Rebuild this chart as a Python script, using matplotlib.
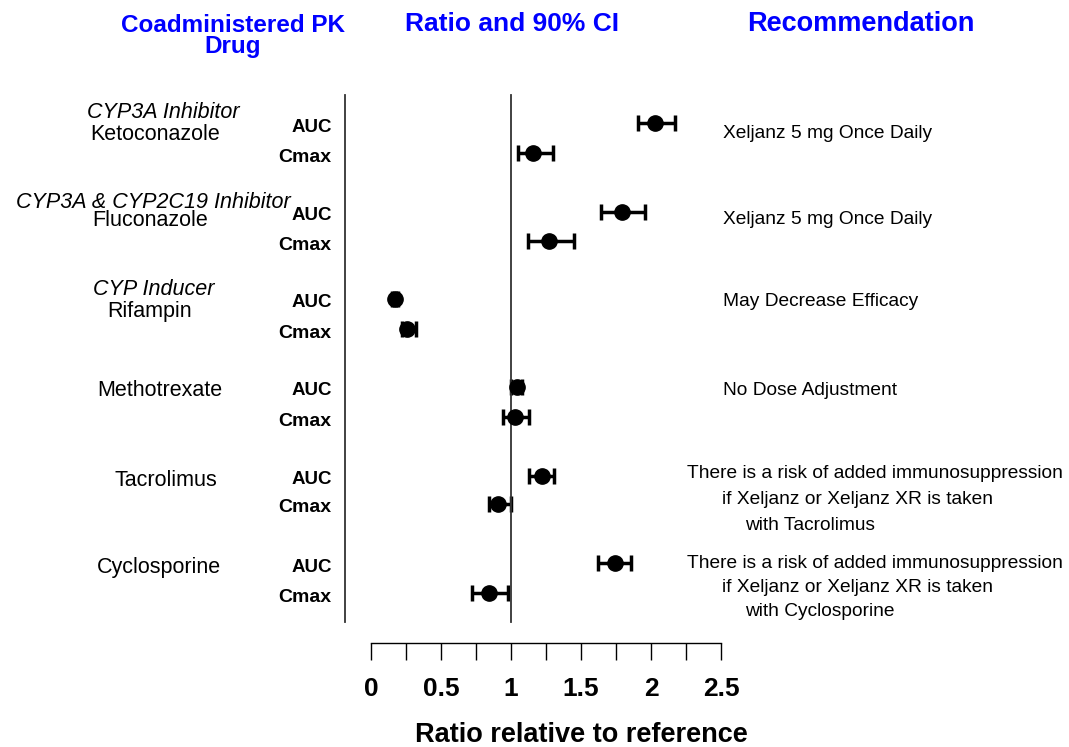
import matplotlib
matplotlib.use("Agg")
import matplotlib.pyplot as plt

plt.rcParams['font.family'] = ['Liberation Sans', 'DejaVu Sans']

W, H = 1069, 747

# data
drugs = ['Ketoconazole', 'Fluconazole', 'Rifampin', 'Methotrexate', 'Tacrolimus', 'Cyclosporine']
classes = ['CYP3A Inhibitor', 'CYP3A & CYP2C19 Inhibitor', 'CYP Inducer', '', '', '']
auc_ratio = [2.03, 1.79, 0.17, 1.04, 1.22, 1.74]
auc_lo = [1.91, 1.64, 0.15, 1.00, 1.13, 1.62]
auc_hi = [2.17, 1.96, 0.19, 1.08, 1.31, 1.86]
cmax_ratio = [1.16, 1.27, 0.26, 1.03, 0.91, 0.84]
cmax_lo = [1.05, 1.12, 0.22, 0.94, 0.84, 0.72]
cmax_hi = [1.30, 1.45, 0.32, 1.13, 1.00, 0.98]
recommendations = [
    ['Xeljanz 5 mg Once Daily'],
    ['Xeljanz 5 mg Once Daily'],
    ['May Decrease Efficacy'],
    ['No Dose Adjustment'],
    ['There is a risk of added immunosuppression', 'if Xeljanz or Xeljanz XR is taken', 'with Tacrolimus'],
    ['There is a risk of added immunosuppression', 'if Xeljanz or Xeljanz XR is taken', 'with Cyclosporine'],
]
ticks = [0, 0.25, 0.5, 0.75, 1, 1.25, 1.5, 1.75, 2, 2.25, 2.5]
tick_labels = ['0', '0.5', '1', '1.5', '2', '2.5']

# layout (pixel rows)
auc_y = [123, 212, 299, 387, 476, 563]
cmax_y = [153, 241, 329, 417, 504, 593]
x0, x1 = 371, 721


def ftext(px, py, s, **kw):
    fig.text(px / W, 1 - py / H, s, **kw)


fig = plt.figure(figsize=(W / 100, H / 100), dpi=100)
ax = fig.add_axes([x0 / W, 0, (x1 - x0) / W, 1])
ax.set_xlim(0, 2.5)
ax.set_ylim(H, 0)
ax.axis('off')

# error bars
err_kw = dict(fmt='o', color='black', markersize=11, elinewidth=2.5,
              capsize=6, capthick=2.5, clip_on=False)
ax.errorbar(auc_ratio, auc_y,
            xerr=[[r - l for r, l in zip(auc_ratio, auc_lo)],
                  [h - r for r, h in zip(auc_ratio, auc_hi)]], **err_kw)
ax.errorbar(cmax_ratio, cmax_y,
            xerr=[[r - l for r, l in zip(cmax_ratio, cmax_lo)],
                  [h - r for r, h in zip(cmax_ratio, cmax_hi)]], **err_kw)

# reference lines
ax.plot([1, 1], [95, 622], color='#333333', lw=1.3, clip_on=False)
left_x = (345 - x0) / (x1 - x0) * 2.5
ax.plot([left_x, left_x], [95, 622], color='#333333', lw=1.3, clip_on=False)

# bottom scale
ax.plot([0, 2.5], [643, 643], color='black', lw=1.0, clip_on=False)
ax.vlines(ticks, 643, 660, color='black', lw=1.0, clip_on=False)
for t, lab in zip(ticks[::2], tick_labels):
    ax.text(t, 689, lab, ha='center', va='center', fontsize=19, fontweight='bold')
ftext(581, 735, 'Ratio relative to reference', ha='center', va='center',
      fontsize=19.5, fontweight='bold')

# headers
blue = '#0000FF'
ftext(233, 36, 'Coadministered PK\nDrug', ha='center', va='center', fontsize=17.5,
      fontweight='bold', color=blue, linespacing=0.85)
ftext(512, 24, 'Ratio and 90% CI', ha='center', va='center', fontsize=19,
      fontweight='bold', color=blue)
ftext(861, 24, 'Recommendation', ha='center', va='center', fontsize=19.5,
      fontweight='bold', color=blue)

# left labels
name_x = [155, 150, 150, 160, 166, 159]
name_y = [134, 220, 311, 391, 480, 567]
class_x = [163, 153, 154]
class_y = [113, 203, 290]
for i, d in enumerate(drugs):
    ftext(name_x[i], name_y[i], d, ha='center', va='center', fontsize=15.5)
    if classes[i]:
        ftext(class_x[i], class_y[i], classes[i], ha='center', va='center',
              fontsize=15.5, style='italic')
    ftext(332, auc_y[i] + 4, 'AUC', ha='right', va='center', fontsize=13.5, fontweight='bold')
    ftext(331, cmax_y[i] + 4, 'Cmax', ha='right', va='center', fontsize=14, fontweight='bold')

# recommendations
single_y = [133, 220, 302, 391]
multi_y = [[473, 499, 526], [564, 588, 611]]
multi_x = [687, 722, 745]
for i, rec in enumerate(recommendations):
    if len(rec) == 1:
        ftext(723, single_y[i], rec[0], ha='left', va='center', fontsize=13.8)
    else:
        for j, line in enumerate(rec):
            ftext(multi_x[j], multi_y[i - 4][j], line, ha='left', va='center', fontsize=13.8)

fig.savefig('out.png', dpi=100)
